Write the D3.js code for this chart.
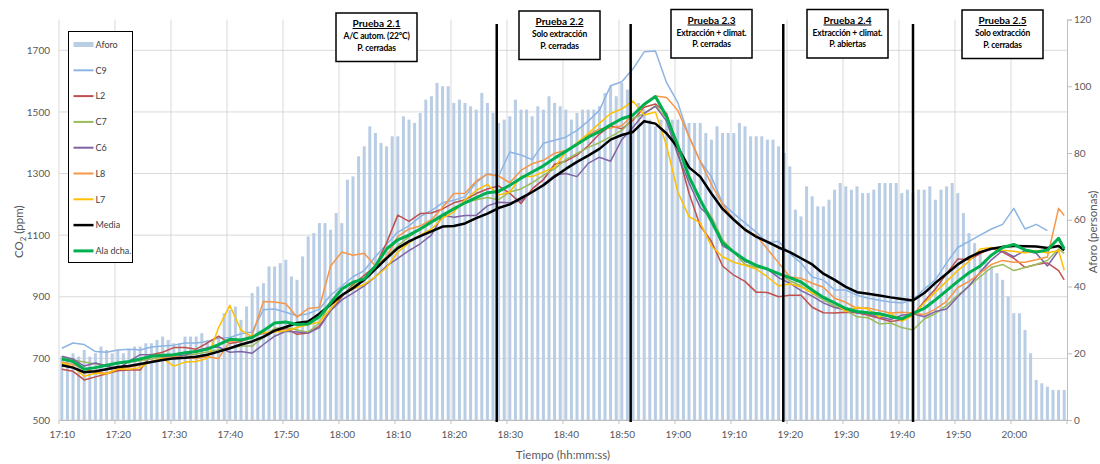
<!DOCTYPE html>
<html>
<head>
<meta charset="utf-8">
<script src="https://cdn.jsdelivr.net/npm/d3@7"></script>
<style>
  body { margin: 0; background: #fff; }
  text { font-family: Lato, "Open Sans", sans-serif; }
</style>
</head>
<body>
<div id="chart"></div>
<script>
// Aforo (personas), one value per minute from 17:10
const aforo = [
  19, 18, 20, 19, 21, 19, 20, 22, 21, 20,
  21, 20, 21, 22, 22, 23, 23, 24, 25, 24,
  23, 23, 25, 25, 25, 26, 24, 24, 25, 32,
  33, 34, 30, 34, 38, 40, 41, 46, 46, 47,
  48, 43, 42, 49, 55, 56, 59, 59, 57, 62,
  59, 72, 73, 79, 82, 88, 86, 83, 82, 85,
  85, 91, 90, 89, 92, 96, 97, 101, 100, 100,
  95, 96, 95, 94, 93, 98, 95, 92, 89, 90,
  91, 96, 93, 93, 91, 94, 93, 97, 95, 94,
  93, 90, 92, 93, 93, 93, 94, 98, 100, 97,
  101, 99, 92, 95, 93, 90, 88, 90, 91, 90,
  90, 89, 89, 89, 89, 86, 84, 88, 86, 86,
  86, 89, 88, 85, 85, 85, 84, 84, 82, 80,
  76, 63, 61, 70, 67, 64, 64, 66, 69, 71,
  70, 69, 70, 68, 68, 69, 71, 71, 71, 71,
  68, 69, 68, 69, 69, 70, 66, 69, 70, 71,
  68, 62, 56, 53, 50, 48, 46, 44, 42, 37,
  32, 32, 27, 20, 12, 11, 10, 9, 9, 9
];

// CO2 (ppm), minutes 0,2,4,...,178 and 179 after 17:10
const minutosCO2 = d3.range(0, 180, 2).concat([179]);

const c9 = [
  733, 750, 745, 722, 720, 727, 730, 727, 737, 740,
  743, 750, 750, 755, 766, 768, 780, 786, 858, 860,
  850, 838, 845, 860, 905, 935, 965, 985, 1030, 1070,
  1110, 1130, 1160, 1180, 1205, 1213, 1225, 1270, 1300, 1292,
  1370, 1360, 1345, 1398, 1408, 1418, 1440, 1470, 1505, 1585,
  1598, 1640, 1695, 1698, 1595, 1530, 1420, 1340, 1290, 1203,
  1170, 1140, 1110, 1075, 1080, 1040, 1010, 964, 954, 922,
  922, 905, 895, 889, 883, 880, 890, 925, 955, 1010,
  1060, 1080, 1100, 1120, 1135, 1187, 1120, 1135, 1115, null,
  null
];
const l2 = [
  665, 658, 630, 640, 650, 660, 662, 662, 712, 720,
  735, 735, 730, 750, 772, 748, 755, 770, 782, 786,
  798, 778, 782, 805, 855, 900, 940, 970, 1000, 1075,
  1165, 1145, 1170, 1172, 1185, 1205, 1215, 1235, 1250, 1260,
  1236, 1203, 1250, 1280, 1330, 1340, 1360, 1390, 1428, 1455,
  1445, 1473, 1515, 1526, 1495, 1370, 1236, 1130, 1080, 1000,
  970, 950, 915, 914, 900, 905, 905, 866, 848, 847,
  850, 848, 840, 830, 820, 825, 840, 885, 925, 975,
  1023, 1020, 1040, 1058, 1045, 1025, 995, 1005, 1010, 985,
  955
];
const c7 = [
  705, 695, 688, 682, 678, 684, 688, 692, 698, 705,
  705, 710, 714, 721, 728, 733, 740, 740, 768, 798,
  800, 792, 785, 815, 880, 905, 935, 955, 990, 1030,
  1065, 1095, 1118, 1140, 1160, 1190, 1205, 1215, 1222, 1215,
  1240, 1250, 1270, 1295, 1315, 1345, 1365, 1385, 1400, 1420,
  1440, 1479, 1495, 1520, 1480, 1400, 1290, 1210, 1160, 1085,
  1045, 1005, 995, 990, 975, 952, 935, 912, 890, 870,
  855, 835, 832, 812, 815, 800, 792, 828, 845, 872,
  905, 935, 965, 995, 1005, 985, 995, 1005, 1018, 1055,
  1041
];
const c6 = [
  707, 698, 675, 685, 675, 665, 690, 712, 712, 705,
  705, 710, 725, 735, 737, 720, 722, 717, 745, 772,
  788, 786, 782, 800, 855, 890, 912, 935, 965, 1000,
  1025, 1050, 1072, 1100, 1165, 1158, 1164, 1164, 1195, 1207,
  1205, 1212, 1240, 1265, 1295, 1300, 1290, 1333, 1353, 1340,
  1410, 1450, 1495, 1518, 1470, 1360, 1270, 1190, 1155, 1065,
  1045, 1015, 1002, 990, 962, 944, 920, 902, 880, 865,
  858, 848, 845, 834, 826, 840, 845, 835, 852, 860,
  900, 935, 980, 1020, 1050, 1030, 1050, 1041, 1000, 1050,
  null
];
const l8 = [
  688, 680, 665, 655, 652, 665, 672, 678, 690, 700,
  705, 702, 700, 705, 700, 755, 759, 775, 885, 883,
  877, 834, 862, 866, 1000, 1045, 1035, 1041, 1000, 1030,
  1095, 1120, 1130, 1150, 1190, 1235, 1236, 1275, 1298, 1292,
  1270, 1310, 1332, 1343, 1366, 1375, 1392, 1425, 1445, 1448,
  1455, 1490, 1520, 1552, 1547, 1505, 1420, 1340, 1265, 1200,
  1150, 1115, 1100, 1055, 1010, 964, 960, 944, 931, 895,
  882, 862, 864, 855, 847, 850, 847, 842, 860, 885,
  930, 950, 977, 1005, 1018, 1012, 1012, 1020, 1029, 1187,
  1164
];
const l7 = [
  685, 672, 642, 652, 650, 665, 665, 670, 690, 700,
  675, 688, 690, 700, 800, 872, 792, 770, 784, 786,
  790, 800, 810, 818, 860, 905, 925, 940, 965, 995,
  1045, 1075, 1100, 1120, 1155, 1175, 1215, 1245, 1265, 1230,
  1240, 1290, 1290, 1305, 1320, 1370, 1400, 1430, 1463, 1495,
  1510, 1535, 1490, 1500, 1390, 1240, 1160, 1140, 1065, 1030,
  1012, 1002, 990, 965, 935, 942, 932, 912, 899, 880,
  852, 866, 860, 834, 847, 820, 840, 880, 915, 950,
  985, 1015, 1055, 1060, 1051, 1048, 1042, 1050, 1042, 1050,
  986
];
const media = [
  678, 670, 655, 658, 665, 672, 675, 682, 688, 695,
  700, 702, 705, 712, 722, 733, 745, 755, 770, 790,
  802, 815, 820, 845, 875, 905, 928, 955, 990, 1025,
  1058, 1080, 1097, 1112, 1128, 1130, 1138, 1155, 1170, 1188,
  1200, 1220, 1240, 1262, 1290, 1315, 1338, 1358, 1380, 1410,
  1425, 1435, 1470, 1462, 1430, 1385, 1320, 1290, 1235, 1185,
  1150, 1118, 1095, 1078, 1060, 1045, 1025, 1005, 975, 955,
  932, 915, 910, 904, 898, 893, 888, 912, 945, 975,
  1005, 1028, 1045, 1056, 1062, 1065, 1064, 1063, 1058, 1065,
  1051
];
const alaDcha = [
  698, 690, 665, 670, 678, 685, 690, 698, 707, 710,
  712, 718, 722, 730, 745, 762, 760, 768, 790, 815,
  818, 810, 812, 835, 880, 925, 947, 958, 1000, 1055,
  1085, 1100, 1120, 1143, 1165, 1185, 1205, 1222, 1238, 1242,
  1262, 1285, 1305, 1325, 1350, 1372, 1395, 1418, 1436, 1458,
  1478, 1490, 1525, 1550, 1485, 1390, 1290, 1215, 1145, 1075,
  1045, 1020, 1002, 990, 975, 962, 948, 922, 898, 880,
  862, 852, 848, 845, 836, 828, 846, 862, 890, 920,
  950, 978, 1000, 1035, 1060, 1070, 1052, 1045, 1052, 1090,
  1055
];

const series = [
  { nombre: "C9", valores: c9, color: "#8eb4e3", ancho: 1.5 },
  { nombre: "L2", valores: l2, color: "#c0504d", ancho: 1.5 },
  { nombre: "C7", valores: c7, color: "#9bbb59", ancho: 1.5 },
  { nombre: "C6", valores: c6, color: "#8064a2", ancho: 1.5 },
  { nombre: "L8", valores: l8, color: "#f79646", ancho: 1.5 },
  { nombre: "L7", valores: l7, color: "#ffc000", ancho: 1.5 },
  { nombre: "Media", valores: media, color: "#000000", ancho: 2.5 },
  { nombre: "Ala dcha.", valores: alaDcha, color: "#00b050", ancho: 3 }
];

const ticksCO2 = [500, 700, 900, 1100, 1300, 1500, 1700];
const ticksAforo = [0, 20, 40, 60, 80, 100, 120];
const ticksTiempo = ["17:10", "17:20", "17:30", "17:40", "17:50", "18:00", "18:10", "18:20",
  "18:30", "18:40", "18:50", "19:00", "19:10", "19:20", "19:30", "19:40", "19:50", "20:00"];

// changes of test
const cortes = ["18:28:10", "18:52:05", "19:19:20", "19:42:30"];

const pruebas = [
  { titulo: "Prueba 2.1", lineas: ["A/C autom.  (22°C)", "P. cerradas"] },
  { titulo: "Prueba 2.2", lineas: ["Solo extracción", "P. cerradas"] },
  { titulo: "Prueba 2.3", lineas: ["Extracción + climat.", "P. cerradas"] },
  { titulo: "Prueba 2.4", lineas: ["Extracción + climat.", "P. abiertas"] },
  { titulo: "Prueba 2.5", lineas: ["Solo extracción", "P. cerradas"] }
];

const parseHora = d3.timeParse("%H:%M:%S");
const hora = s => parseHora(s.length === 5 ? s + ":00" : s);
const inicio = hora("17:10");
const minuto = m => new Date(inicio.getTime() + m * 60000);

drawChart();

function drawChart() {
  const W = 1100, H = 464;
  const left = 59, right = 1067, top = 19.5, bottom = 420;

  const svg = d3.select("#chart")
      .append("svg")
      .attr("width", W)
      .attr("height", H);

  const x = d3.scaleTime()
      .domain([inicio, hora("20:10")])
      .range([left, right]);
  const y = d3.scaleLinear().domain([500, 1800]).range([bottom, top]);
  const y2 = d3.scaleLinear().domain([0, 120]).range([bottom, top]);

  // grid
  svg.append("g")
      .selectAll("line")
      .data(ticksCO2)
      .enter()
      .append("line")
      .attr("x1", left).attr("x2", right)
      .attr("y1", d => y(d)).attr("y2", d => y(d))
      .attr("stroke", "#d9d9d9").attr("stroke-width", 1);

  svg.append("g")
      .selectAll("line")
      .data(ticksTiempo)
      .enter()
      .append("line")
      .attr("x1", d => x(hora(d))).attr("x2", d => x(hora(d)))
      .attr("y1", top).attr("y2", bottom)
      .attr("stroke", "#d9d9d9").attr("stroke-width", 1);

  // bars (aforo)
  svg.append("g")
      .selectAll("rect")
      .data(aforo)
      .enter()
      .append("rect")
      .attr("x", (d, i) => x(minuto(i + 0.5)) - 1.5)
      .attr("width", 3)
      .attr("y", d => y2(d))
      .attr("height", d => y2(0) - y2(d))
      .attr("fill", "#b9cde5");

  // lines
  const linea = d3.line()
      .defined(d => d.v !== null)
      .x(d => x(minuto(d.m + 0.5)))
      .y(d => y(d.v));

  series.forEach(s => {
    svg.append("path")
        .datum(minutosCO2.map((m, i) => ({ m: m, v: s.valores[i] })))
        .attr("fill", "none")
        .attr("stroke", s.color)
        .attr("stroke-width", s.ancho)
        .attr("stroke-linejoin", "round")
        .attr("d", linea);
  });

  // x axis
  const ejeX = svg.append("g")
      .attr("transform", `translate(0,${bottom})`)
      .call(d3.axisBottom(x)
          .tickValues(ticksTiempo.map(t => new Date(hora(t).getTime() + 30000)))
          .tickFormat((d, i) => ticksTiempo[i])
          .tickSize(0)
          .tickPadding(11));
  ejeX.select(".domain").attr("stroke", "#bfbfbf");
  ejeX.selectAll("text").attr("fill", "#595959").style("font-size", "10px");

  svg.append("g")
      .selectAll("line")
      .data(ticksTiempo.concat(["20:10"]))
      .enter()
      .append("line")
      .attr("x1", d => x(hora(d))).attr("x2", d => x(hora(d)))
      .attr("y1", bottom).attr("y2", bottom + 4)
      .attr("stroke", "#bfbfbf");

  // left axis
  const ejeY = svg.append("g")
      .attr("transform", `translate(${left},0)`)
      .call(d3.axisLeft(y).tickValues(ticksCO2).tickFormat(d3.format("d")).tickSize(0).tickPadding(9));
  ejeY.select(".domain").remove();
  ejeY.selectAll("text").attr("fill", "#595959").style("font-size", "10px");

  // right axis
  const ejeY2 = svg.append("g")
      .attr("transform", `translate(${right},0)`)
      .call(d3.axisRight(y2).tickValues(ticksAforo).tickSize(5).tickPadding(2));
  ejeY2.select(".domain").attr("stroke", "#bfbfbf");
  ejeY2.selectAll("line").attr("stroke", "#bfbfbf");
  ejeY2.selectAll("text").attr("fill", "#595959").style("font-size", "10px");

  // axis titles
  const tituloY = svg.append("text")
      .attr("text-anchor", "middle")
      .attr("transform", `translate(23,${(top + bottom) / 2 + 12}) rotate(-90)`)
      .attr("fill", "#595959")
      .style("font-size", "11.5px");
  tituloY.append("tspan").text("CO");
  tituloY.append("tspan").attr("dy", 3).style("font-size", "8px").text("2");
  tituloY.append("tspan").attr("dy", -3).text("\u00a0(ppm)");

  svg.append("text")
      .attr("text-anchor", "middle")
      .attr("transform", `translate(1097,232) rotate(-90)`)
      .attr("fill", "#595959")
      .style("font-size", "11.5px")
      .text("Aforo (personas)");

  svg.append("text")
      .attr("text-anchor", "middle")
      .attr("x", 563)
      .attr("y", 459)
      .attr("fill", "#595959")
      .style("font-size", "11.5px")
      .text("Tiempo (hh:mm:ss)");

  // vertical separators
  svg.append("g")
      .selectAll("line")
      .data(cortes)
      .enter()
      .append("line")
      .attr("x1", d => x(hora(d))).attr("x2", d => x(hora(d)))
      .attr("y1", 24).attr("y2", bottom + 2)
      .attr("stroke", "#000").attr("stroke-width", 2.5);

  // test boxes
  const cajas = [
    { cx: 376.5, y: 13 }, { cx: 559.5, y: 11 }, { cx: 711.5, y: 9.5 },
    { cx: 847.5, y: 9.5 }, { cx: 1002.5, y: 10 }
  ];
  pruebas.forEach((p, i) => {
    const c = cajas[i];
    const g = svg.append("g").attr("transform", `translate(${c.cx},${c.y})`);
    g.append("rect")
        .attr("x", -40.5).attr("y", 0)
        .attr("width", 81).attr("height", 48.5)
        .attr("fill", "#fff").attr("stroke", "#000").attr("stroke-width", 1.5);
    g.append("text")
        .attr("text-anchor", "middle")
        .attr("y", 14)
        .style("font-size", "10px")
        .style("font-weight", "bold")
        .style("text-decoration", "underline")
        .text(p.titulo);
    p.lineas.forEach((l, j) => {
      g.append("text")
          .attr("text-anchor", "middle")
          .attr("y", 26 + j * 11.5)
          .style("font-size", "8.5px")
          .style("font-weight", "bold")
          .style("letter-spacing", "-0.2px")
          .text(l);
    });
  });

  // legend
  const leyenda = svg.append("g").attr("transform", "translate(68.5,31.5)");
  leyenda.append("rect")
      .attr("width", 64).attr("height", 231)
      .attr("fill", "#fff").attr("stroke", "#000").attr("stroke-width", 1);
  const items = [{ nombre: "Aforo", color: "#b9cde5", ancho: 5 }].concat(series);
  items.forEach((s, i) => {
    const yy = 13 + i * 25.8;
    leyenda.append("line")
        .attr("x1", 5).attr("x2", 25)
        .attr("y1", yy).attr("y2", yy)
        .attr("stroke", s.color)
        .attr("stroke-width", s.nombre === "Aforo" ? 5 : Math.max(2, s.ancho));
    leyenda.append("text")
        .attr("x", 27)
        .attr("y", yy + 3.3)
        .attr("fill", "#404040")
        .style("font-size", "9px")
        .text(s.nombre);
  });
}
</script>
</body>
</html>
